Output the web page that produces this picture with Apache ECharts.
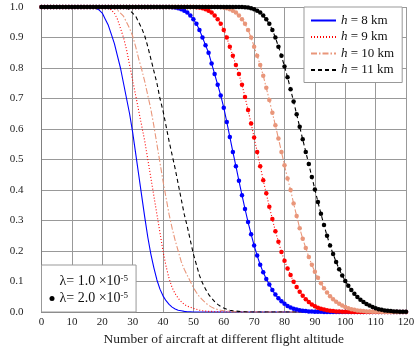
<!DOCTYPE html>
<html>
<head>
<meta charset="utf-8">
<script src="https://cdn.jsdelivr.net/npm/echarts@6/dist/echarts.min.js"></script>
<style>
  html, body { margin: 0; padding: 0; background: #fff; }
  #chart { width: 415px; height: 347px; }
</style>
</head>
<body>
<div id="chart"></div>
<script>
// probability vs number of aircraft (index = number of aircraft, 0..120)
// lambda = 1.0e-5, lines only
const h8Lam1 = [
  1, 1, 1, 1, 1, 1, 1, 1, 1, 1,
  1, 1, 1, 1, 1, 1, 1, 1, 0.995, 0.99,
  0.98, 0.96, 0.94, 0.91, 0.88, 0.84, 0.80, 0.75, 0.70, 0.65,
  0.59, 0.52, 0.45, 0.38, 0.31, 0.245, 0.19, 0.145, 0.105, 0.075,
  0.053, 0.037, 0.025, 0.016, 0.01, 0.006, 0.004, 0.002, 0.001, 0.001,
  0, 0, 0, 0, 0, 0, 0, 0, 0, 0,
  0, 0, 0, 0, 0, 0, 0, 0, 0, 0,
  0, 0, 0, 0, 0, 0, 0, 0, 0, 0,
  0, 0, 0, 0, 0, 0, 0, 0, 0, 0,
  0, 0, 0, 0, 0, 0, 0, 0, 0, 0,
  0, 0, 0, 0, 0, 0, 0, 0, 0, 0,
  0, 0, 0, 0, 0, 0, 0, 0, 0, 0,
  0
];
const h9Lam1 = [
  1, 1, 1, 1, 1, 1, 1, 1, 1, 1,
  1, 1, 1, 1, 1, 1, 1, 1, 1, 1,
  1, 1, 0.995, 0.99, 0.98, 0.96, 0.93, 0.90, 0.86, 0.81,
  0.76, 0.71, 0.66, 0.61, 0.56, 0.50, 0.44, 0.38, 0.32, 0.26,
  0.20, 0.15, 0.11, 0.08, 0.06, 0.045, 0.034, 0.025, 0.019, 0.016,
  0.012, 0.009, 0.006, 0.004, 0.003, 0.002, 0.002, 0.001, 0.001, 0.001,
  0, 0, 0, 0, 0, 0, 0, 0, 0, 0,
  0, 0, 0, 0, 0, 0, 0, 0, 0, 0,
  0, 0, 0, 0, 0, 0, 0, 0, 0, 0,
  0, 0, 0, 0, 0, 0, 0, 0, 0, 0,
  0, 0, 0, 0, 0, 0, 0, 0, 0, 0,
  0, 0, 0, 0, 0, 0, 0, 0, 0, 0,
  0
];
const h10Lam1 = [
  1, 1, 1, 1, 1, 1, 1, 1, 1, 1,
  1, 1, 1, 1, 1, 1, 1, 1, 1, 1,
  1, 1, 1, 1, 0.995, 0.99, 0.98, 0.97, 0.95, 0.93,
  0.905, 0.87, 0.83, 0.795, 0.755, 0.71, 0.665, 0.61, 0.55, 0.49,
  0.43, 0.375, 0.32, 0.275, 0.235, 0.20, 0.165, 0.14, 0.12, 0.10,
  0.08, 0.064, 0.05, 0.04, 0.03, 0.022, 0.016, 0.011, 0.008, 0.006,
  0.004, 0.003, 0.002, 0.001, 0.001, 0, 0, 0, 0, 0,
  0, 0, 0, 0, 0, 0, 0, 0, 0, 0,
  0, 0, 0, 0, 0, 0, 0, 0, 0, 0,
  0, 0, 0, 0, 0, 0, 0, 0, 0, 0,
  0, 0, 0, 0, 0, 0, 0, 0, 0, 0,
  0, 0, 0, 0, 0, 0, 0, 0, 0, 0,
  0
];
const h11Lam1 = [
  1, 1, 1, 1, 1, 1, 1, 1, 1, 1,
  1, 1, 1, 1, 1, 1, 1, 1, 1, 1,
  1, 1, 1, 1, 1, 1, 1, 1, 0.997, 0.99,
  0.98, 0.97, 0.95, 0.93, 0.905, 0.87, 0.83, 0.79, 0.75, 0.70,
  0.66, 0.61, 0.56, 0.515, 0.47, 0.42, 0.37, 0.32, 0.28, 0.235,
  0.19, 0.155, 0.12, 0.095, 0.075, 0.058, 0.045, 0.034, 0.025, 0.018,
  0.013, 0.009, 0.006, 0.004, 0.003, 0.002, 0.001, 0.001, 0, 0,
  0, 0, 0, 0, 0, 0, 0, 0, 0, 0,
  0, 0, 0, 0, 0, 0, 0, 0, 0, 0,
  0, 0, 0, 0, 0, 0, 0, 0, 0, 0,
  0, 0, 0, 0, 0, 0, 0, 0, 0, 0,
  0, 0, 0, 0, 0, 0, 0, 0, 0, 0,
  0
];

// lambda = 2.0e-5, lines with dots
const h8Lam2 = [
  1, 1, 1, 1, 1, 1, 1, 1, 1, 1,
  1, 1, 1, 1, 1, 1, 1, 1, 1, 1,
  1, 1, 1, 1, 1, 1, 1, 1, 1, 1,
  1, 1, 1, 1, 1, 1, 1, 1, 1, 1,
  1, 1, 1, 0.999, 0.998, 0.996, 0.993, 0.988, 0.982, 0.972,
  0.96, 0.945, 0.925, 0.90, 0.875, 0.85, 0.815, 0.78, 0.745, 0.71,
  0.67, 0.623, 0.574, 0.525, 0.478, 0.43, 0.383, 0.338, 0.295, 0.255,
  0.218, 0.185, 0.155, 0.13, 0.108, 0.09, 0.072, 0.057, 0.045, 0.035,
  0.027, 0.02, 0.015, 0.011, 0.008, 0.006, 0.004, 0.003, 0.002, 0.0015,
  0.001, 0.001, 0.0005, 0, 0, 0, 0, 0, 0, 0,
  0, 0, 0, 0, 0, 0, 0, 0, 0, 0,
  0, 0, 0, 0, 0, 0, 0, 0, 0, 0,
  0
];
const h9Lam2 = [
  1, 1, 1, 1, 1, 1, 1, 1, 1, 1,
  1, 1, 1, 1, 1, 1, 1, 1, 1, 1,
  1, 1, 1, 1, 1, 1, 1, 1, 1, 1,
  1, 1, 1, 1, 1, 1, 1, 1, 1, 1,
  1, 1, 1, 1, 1, 1, 1, 1, 1, 1,
  1, 0.999, 0.998, 0.996, 0.993, 0.988, 0.982, 0.972, 0.96, 0.945,
  0.925, 0.90, 0.87, 0.84, 0.81, 0.78, 0.745, 0.705, 0.662, 0.618,
  0.572, 0.525, 0.478, 0.432, 0.389, 0.345, 0.305, 0.265, 0.23, 0.197,
  0.168, 0.143, 0.121, 0.099, 0.082, 0.066, 0.053, 0.042, 0.033, 0.025,
  0.019, 0.014, 0.011, 0.008, 0.006, 0.004, 0.003, 0.002, 0.0015, 0.001,
  0.001, 0.0005, 0, 0, 0, 0, 0, 0, 0, 0,
  0, 0, 0, 0, 0, 0, 0, 0, 0, 0,
  0
];
const h10Lam2 = [
  1, 1, 1, 1, 1, 1, 1, 1, 1, 1,
  1, 1, 1, 1, 1, 1, 1, 1, 1, 1,
  1, 1, 1, 1, 1, 1, 1, 1, 1, 1,
  1, 1, 1, 1, 1, 1, 1, 1, 1, 1,
  1, 1, 1, 1, 1, 1, 1, 1, 1, 1,
  1, 1, 1, 1, 1, 1, 1, 1, 1, 0.999,
  0.998, 0.996, 0.993, 0.988, 0.982, 0.972, 0.96, 0.945, 0.925, 0.90,
  0.87, 0.84, 0.81, 0.775, 0.735, 0.695, 0.653, 0.612, 0.569, 0.525,
  0.481, 0.438, 0.40, 0.356, 0.315, 0.275, 0.24, 0.21, 0.18, 0.155,
  0.132, 0.112, 0.094, 0.078, 0.064, 0.052, 0.042, 0.034, 0.027, 0.021,
  0.016, 0.012, 0.009, 0.007, 0.005, 0.004, 0.003, 0.002, 0.0015, 0.001,
  0.001, 0.0005, 0, 0, 0, 0, 0, 0, 0, 0,
  0
];
const h11Lam2 = [
  1, 1, 1, 1, 1, 1, 1, 1, 1, 1,
  1, 1, 1, 1, 1, 1, 1, 1, 1, 1,
  1, 1, 1, 1, 1, 1, 1, 1, 1, 1,
  1, 1, 1, 1, 1, 1, 1, 1, 1, 1,
  1, 1, 1, 1, 1, 1, 1, 1, 1, 1,
  1, 1, 1, 1, 1, 1, 1, 1, 1, 1,
  1, 1, 1, 1, 1, 1, 1, 0.999, 0.998, 0.996,
  0.993, 0.988, 0.982, 0.972, 0.96, 0.945, 0.925, 0.90, 0.87, 0.84,
  0.805, 0.77, 0.73, 0.69, 0.648, 0.607, 0.566, 0.525, 0.485, 0.443,
  0.402, 0.361, 0.322, 0.285, 0.25, 0.218, 0.19, 0.164, 0.14, 0.12,
  0.102, 0.086, 0.072, 0.06, 0.049, 0.04, 0.033, 0.026, 0.021, 0.016,
  0.012, 0.009, 0.007, 0.005, 0.004, 0.003, 0.002, 0.0015, 0.001, 0.001,
  0.0005
];

const heightNames = ['h = 8 km', 'h = 9 km', 'h = 10 km', 'h = 11 km'];

const serif = '"Liberation Serif", "Times New Roman", serif';
const colors = ['#0000ff', '#ff0000', '#e9967a', '#000000'];
const dashes = ['solid', [1, 2], [6, 2, 1.5, 2], [4, 3]];

const lam1Sets = [h8Lam1, h9Lam1, h10Lam1, h11Lam1];
const lam2Sets = [h8Lam2, h9Lam2, h10Lam2, h11Lam2];

function toPoints(values) {
  return values.map((v, i) => [i, v]);
}

const series = [];
lam1Sets.forEach((vals, k) => {
  series.push({
    name: heightNames[k],
    type: 'line',
    data: toPoints(vals),
    symbol: 'none',
    color: colors[k],
    lineStyle: { color: colors[k], width: 1.1, type: dashes[k] },
    z: 3
  });
});
lam2Sets.forEach((vals, k) => {
  series.push({
    name: heightNames[k] + ' (2)',
    type: 'line',
    data: toPoints(vals),
    symbol: 'circle',
    symbolSize: 4.5,
    showAllSymbol: true,
    color: colors[k],
    itemStyle: { color: colors[k] },
    lineStyle: { color: colors[k], width: 1.1, type: dashes[k] },
    z: 4
  });
});
// dummy series for the lambda legend
series.push({ name: 'lam1', type: 'line', data: [], color: 'rgba(0,0,0,0)' });
series.push({ name: 'lam2', type: 'line', data: [], color: '#000' });

const chart = echarts.init(document.getElementById('chart'), null, { renderer: 'canvas' });
chart.setOption({
  animation: false,
  backgroundColor: '#fff',
  textStyle: { fontFamily: serif },
  grid: { left: 41.5, right: 9, top: 7, bottom: 35, containLabel: false, outerBoundsMode: 'none' },
  xAxis: {
    type: 'value',
    min: 0,
    max: 120,
    interval: 10,
    name: 'Number of aircraft at different flight altitude',
    nameLocation: 'middle',
    nameGap: 17,
    nameTextStyle: { fontFamily: serif, fontSize: 13.5, color: '#222' },
    axisLine: { lineStyle: { color: '#808080', width: 1 } },
    axisTick: { show: false },
    axisLabel: { fontFamily: serif, fontSize: 11, color: '#222', margin: 5 },
    splitLine: { show: true, lineStyle: { color: '#999', width: 1 } }
  },
  yAxis: {
    type: 'value',
    min: 0,
    max: 1,
    interval: 0.1,
    name: 'Probability',
    nameLocation: 'middle',
    nameGap: 29,
    nameTextStyle: { fontFamily: serif, fontSize: 13.5, color: '#222' },
    axisLine: { show: true, lineStyle: { color: '#808080', width: 1 } },
    axisTick: { show: false },
    axisLabel: {
      fontFamily: serif, fontSize: 11, color: '#222', margin: 18,
      formatter: v => v.toFixed(1)
    },
    splitLine: { show: true, lineStyle: { color: '#999', width: 1 } }
  },
  legend: [
    {
      data: heightNames,
      orient: 'vertical',
      left: 304,
      top: 7,
      width: 100,
      padding: [7, 8, 6, 6],
      itemGap: 3.5,
      itemWidth: 25,
      itemHeight: 12.5,
      itemStyle: { color: 'rgba(0,0,0,0)', borderWidth: 0, opacity: 0 },
      backgroundColor: '#fff',
      borderColor: '#999',
      borderWidth: 1,
      borderRadius: 0,
      selectedMode: false,
      formatter: name => '{i|h}' + name.slice(1),
      textStyle: {
        fontFamily: serif, fontSize: 13, color: '#111', lineHeight: 13,
        rich: {
          i: { fontFamily: serif, fontSize: 13, fontStyle: 'italic', color: '#111', lineHeight: 13 }
        }
      }
    },
    {
      data: [
        { name: 'lam1', icon: 'circle', itemStyle: { color: 'rgba(0,0,0,0)' } },
        { name: 'lam2', icon: 'circle', itemStyle: { color: '#000' } }
      ],
      orient: 'vertical',
      left: 41.5,
      top: 265,
      width: 94,
      padding: [9, 8, 6, 8],
      itemGap: 2,
      itemWidth: 5,
      itemHeight: 5,
      backgroundColor: '#fff',
      borderColor: '#999',
      borderWidth: 1,
      selectedMode: false,
      formatter: name => name === 'lam1'
        ? '{l|λ}= 1.0 ×10{s|-5}'
        : '{l|λ}= 2.0 ×10{s|-5}',
      textStyle: {
        fontFamily: serif, fontSize: 14, color: '#111', lineHeight: 15,
        rich: {
          l: { fontFamily: serif, fontSize: 14, color: '#111', lineHeight: 15 },
          s: { fontFamily: serif, fontSize: 9, color: '#111', lineHeight: 9, verticalAlign: 'top' }
        }
      }
    }
  ],
  series: series
});
</script>
</body>
</html>
